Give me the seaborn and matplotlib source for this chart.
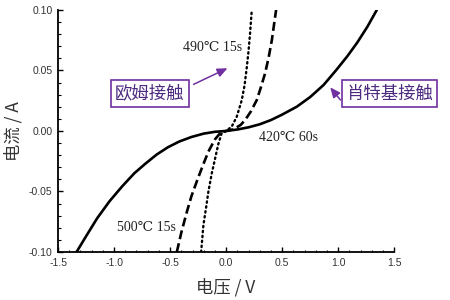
import matplotlib
matplotlib.use("Agg")
import matplotlib.pyplot as plt
from matplotlib.ticker import MultipleLocator, FormatStrFormatter
import seaborn as sns
import pandas as pd

# 420℃ 60s (Schottky, solid)
solid_v = [-1.335, -1.25, -1.15, -1.04, -0.93, -0.82, -0.72, -0.62, -0.52, -0.42, -0.31, -0.2, -0.1,
           0.0, 0.1, 0.2, 0.3, 0.4, 0.5, 0.63, 0.75, 0.87, 0.98, 1.08, 1.17, 1.26, 1.345]
solid_i = [-0.100, -0.087, -0.072, -0.058, -0.046, -0.035, -0.027, -0.0195, -0.0135, -0.0088, -0.005, -0.0022, -0.0007,
           0.0, 0.0012, 0.003, 0.0055, 0.009, 0.0135, 0.020, 0.028, 0.038, 0.050, 0.0615, 0.073, 0.086, 0.100]

# 500℃ 15s (dashed)
dashed_v = [-0.44, -0.40, -0.35, -0.31, -0.263, -0.21, -0.158, -0.10, -0.054, 0.0, 0.05, 0.08,
            0.13, 0.17, 0.22, 0.274, 0.31, 0.348, 0.38, 0.408, 0.446]
dashed_i = [-0.100, -0.084, -0.0667, -0.054, -0.042, -0.029, -0.017, -0.007, -0.0019, 0.0, 0.001, 0.0022,
            0.005, 0.0091, 0.016, 0.0256, 0.036, 0.0477, 0.061, 0.075, 0.100]

# 490℃ 15s (dotted, ohmic)
dotted_v = [-0.223, -0.203, -0.18, -0.158, -0.128, -0.098, -0.07, -0.04, 0.0, 0.05, 0.095, 0.14,
            0.165, 0.185, 0.2, 0.214, 0.229]
dotted_i = [-0.100, -0.078, -0.064, -0.050, -0.035, -0.0226, -0.011, -0.0019, 0.0, 0.0036, 0.0118, 0.0256,
            0.038, 0.053, 0.066, 0.081, 0.100]

x_label = "电压 / V"
y_label = "电流 / A"
curve_labels = ["420℃ 60s", "500℃ 15s", "490℃ 15s"]
box_labels = ["欧姆接触", "肖特基接触"]

sns.set_theme(style="ticks")
plt.rcParams["font.family"] = ["Liberation Sans", "DejaVu Sans"]
plt.rcParams["axes.unicode_minus"] = False

fig = plt.figure(figsize=(4.5, 3.0), dpi=100)
ax = fig.add_axes([0.129, 0.16, 0.747, 0.807])

df_s = pd.DataFrame({"v": solid_v, "i": solid_i})
df_d = pd.DataFrame({"v": dashed_v, "i": dashed_i})
df_o = pd.DataFrame({"v": dotted_v, "i": dotted_i})

sns.lineplot(data=df_s, x="v", y="i", ax=ax, color="black", lw=1.9, estimator=None, sort=False)
l2 = sns.lineplot(data=df_d, x="v", y="i", ax=ax, color="black", lw=1.9, estimator=None, sort=False).lines[-1]
l2.set_dashes((3.4, 1.6))
l3 = sns.lineplot(data=df_o, x="v", y="i", ax=ax, color="black", lw=1.7, estimator=None, sort=False).lines[-1]
l3.set_dashes((0.6, 1.5))
l3.set_dash_capstyle("round")

ax.set_xlim(-1.5, 1.5)
ax.set_ylim(-0.10, 0.10)
ax.xaxis.set_major_locator(MultipleLocator(0.5))
ax.xaxis.set_minor_locator(MultipleLocator(0.1))
ax.yaxis.set_major_locator(MultipleLocator(0.05))
ax.yaxis.set_minor_locator(MultipleLocator(0.01))
ax.xaxis.set_major_formatter(FormatStrFormatter("%.1f"))
ax.yaxis.set_major_formatter(FormatStrFormatter("%.2f"))
ax.tick_params(which="major", direction="in", length=3.5, width=1.0, labelsize=7.5,
               labelcolor="#333333", color="black", pad=4)
ax.tick_params(which="minor", direction="in", length=1.8, width=0.8, color="black")
for s in ["top", "right"]:
    ax.spines[s].set_visible(False)
for s in ["left", "bottom"]:
    ax.spines[s].set_linewidth(1.3)
    ax.spines[s].set_color("black")

ax.set_xlabel("")
ax.set_ylabel("")
cjk = ["Noto Sans CJK SC", "DejaVu Sans"]
fig.text(0.502, 0.042, x_label, ha="center", va="center", fontsize=12.5, color="#333333", family=cjk)
fig.text(0.03, 0.563, y_label, ha="center", va="center", rotation=90, fontsize=12.5, color="#333333", family=cjk)

serif = ["Liberation Serif", "DejaVu Serif"]
ax.text(0.553, -0.005, curve_labels[0], ha="center", va="center", fontsize=10, color="#222222", family=serif)
ax.text(-0.714, -0.080, curve_labels[1], ha="center", va="center", fontsize=10, color="#222222", family=serif)
ax.text(-0.125, 0.0686, curve_labels[2], ha="center", va="center", fontsize=10, color="#222222", family=serif)

purple = "#7030a0"
txtpurple = "#4b2a80"
bbox = dict(boxstyle="square,pad=0.25", fc="white", ec=purple, lw=1.2)
ax.text(-0.68, 0.031, box_labels[0], ha="center", va="center", fontsize=12.5, color=txtpurple,
        family=cjk, bbox=bbox, clip_on=False)
ax.text(1.46, 0.031, box_labels[1], ha="center", va="center", fontsize=12.5, color=txtpurple,
        family=cjk, bbox=bbox, clip_on=False)

arrowprops = dict(arrowstyle="-|>,head_length=0.5,head_width=0.22", color=purple, lw=1.1, shrinkA=0, shrinkB=0)
ax.annotate("", xy=(0.012, 0.0518), xytext=(-0.29, 0.0385), arrowprops=arrowprops, annotation_clip=False)
ax.annotate("", xy=(0.929, 0.036), xytext=(1.02, 0.0256), arrowprops=arrowprops, annotation_clip=False)

fig.savefig("out.png", dpi=100, facecolor="white")
